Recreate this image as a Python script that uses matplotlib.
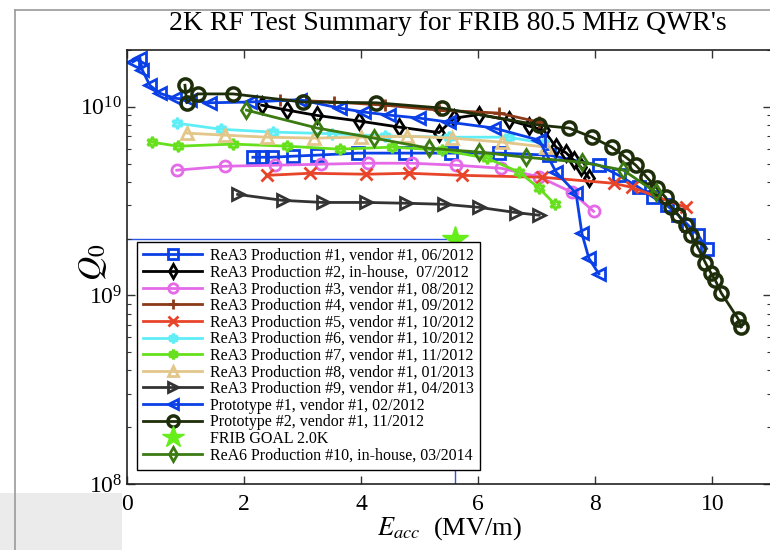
import matplotlib
matplotlib.use("Agg")
import matplotlib.pyplot as plt
from matplotlib.patches import Rectangle
from matplotlib.lines import Line2D

plt.rcParams['font.family'] = ['Liberation Serif', 'DejaVu Serif']
plt.rcParams['mathtext.fontset'] = 'stix'

# ---- data: accelerating gradient (MV/m) and Q0 -------------------------
labels = [
    "ReA3 Production #1, vendor #1, 06/2012",
    "ReA3 Production #2, in-house,  07/2012",
    "ReA3 Production #3, vendor #1, 08/2012",
    "ReA3 Production #4, vendor #1, 09/2012",
    "ReA3 Production #5, vendor #1, 10/2012",
    "ReA3 Production #6, vendor #1, 10/2012",
    "ReA3 Production #7, vendor #1, 11/2012",
    "ReA3 Production #8, vendor #1, 01/2013",
    "ReA3 Production #9, vendor #1, 04/2013",
    "Prototype #1, vendor #1, 02/2012",
    "Prototype #2, vendor #1, 11/2012",
    "FRIB GOAL 2.0K",
    "ReA6 Production #10, in-house, 03/2014",
]

p1_E = [2.15, 2.30, 2.47, 2.83, 3.24, 3.94, 4.74, 5.54, 6.35, 7.21, 8.06, 8.40,
        8.74, 8.99, 9.22, 9.42, 9.59, 9.76, 9.90]
p1_Q = [5.40e9, 5.40e9, 5.40e9, 5.47e9, 5.54e9, 5.68e9, 5.68e9, 5.68e9, 5.68e9,
        5.54e9, 4.90e9, 4.33e9, 3.74e9, 3.31e9, 3.00e9, 2.66e9, 2.35e9, 2.08e9, 1.77e9]

p2_E = [2.30, 2.74, 3.24, 3.97, 4.65, 5.33, 5.59, 6.01, 6.52, 6.87, 7.12, 7.33,
        7.50, 7.63, 7.75, 7.89]
p2_Q = [1.02e10, 9.6e9, 9.0e9, 8.4e9, 7.8e9, 7.3e9, 8.7e9, 9.1e9, 8.5e9, 7.9e9,
        7.5e9, 6.1e9, 5.7e9, 5.2e9, 4.8e9, 4.2e9]

p3_E = [0.85, 1.67, 2.52, 3.32, 4.11, 4.87, 5.62, 6.39, 7.04, 7.60, 7.97]
p3_Q = [4.61e9, 4.84e9, 4.90e9, 4.96e9, 5.02e9, 5.02e9, 4.90e9, 4.72e9, 4.25e9,
        3.52e9, 2.79e9]

p4_E = [2.61, 3.54, 4.40, 5.33, 6.35, 7.04]
p4_Q = [1.09e10, 1.06e10, 1.02e10, 9.6e9, 9.26e9, 8.29e9]

p5_E = [2.39, 3.12, 4.09, 4.82, 5.72, 7.09, 8.31, 8.62, 9.54]
p5_Q = [4.33e9, 4.44e9, 4.39e9, 4.44e9, 4.33e9, 4.23e9, 3.93e9, 3.74e9, 2.93e9]

p6_E = [0.85, 1.60, 2.49, 3.50, 4.40, 5.50, 6.52, 7.12]
p6_Q = [8.19e9, 7.6e9, 7.34e9, 7.2e9, 7.0e9, 6.9e9, 6.9e9, 6.41e9]

p7_E = [0.43, 0.87, 1.81, 2.74, 3.63, 4.53, 5.38, 6.15, 6.70, 7.04, 7.31]
p7_Q = [6.49e9, 6.18e9, 6.34e9, 6.18e9, 5.96e9, 6.11e9, 5.89e9, 5.34e9, 4.50e9,
        3.70e9, 3.04e9]

p8_E = [1.02, 1.67, 2.39, 3.20, 4.00, 4.79, 5.55, 6.41, 7.16]
p8_Q = [7.25e9, 7.07e9, 6.90e9, 6.82e9, 6.90e9, 6.98e9, 6.82e9, 6.49e9, 6.11e9]

p9_E = [1.89, 2.66, 3.34, 4.09, 4.77, 5.42, 6.01, 6.64, 7.04]
p9_Q = [3.43e9, 3.19e9, 3.11e9, 3.11e9, 3.08e9, 3.04e9, 2.93e9, 2.75e9, 2.66e9]

proto1_E = [0.10, 0.22, 0.26, 0.39, 0.56, 0.82, 1.07, 1.41, 2.10, 2.95, 3.63, 4.05,
            4.48, 4.99, 5.50, 6.27, 7.04, 7.33, 7.67, 7.77, 7.89, 8.06]
proto1_Q = [1.73e10, 1.82e10, 1.57e10, 1.30e10, 1.18e10, 1.11e10, 1.09e10, 1.05e10,
            1.06e10, 1.09e10, 9.84e9, 9.37e9, 9.03e9, 8.71e9, 8.29e9, 7.71e9,
            6.65e9, 4.50e9, 3.48e9, 2.13e9, 1.57e9, 1.30e9]

proto2_E = [0.99, 1.02, 1.21, 1.81, 3.00, 4.26, 5.38, 7.04, 7.55, 7.94, 8.28, 8.52,
            8.69, 8.88, 9.05, 9.20, 9.30, 9.42, 9.54, 9.64, 9.76, 9.88, 9.97, 10.05,
            10.15, 10.44, 10.49]
proto2_Q = [1.30e10, 1.05e10, 1.17e10, 1.17e10, 1.06e10, 1.05e10, 9.84e9, 7.99e9,
            7.71e9, 6.90e9, 6.11e9, 5.40e9, 4.90e9, 4.23e9, 3.70e9, 3.31e9, 2.93e9,
            2.66e9, 2.35e9, 2.08e9, 1.77e9, 1.49e9, 1.32e9, 1.20e9, 1.03e9, 7.5e8, 6.8e8]

goal_E = [5.6]
goal_Q = [2.0e9]

p10_E = [2.04, 3.25, 4.22, 5.16, 6.01, 6.81, 7.77, 8.48, 9.03]
p10_Q = [9.60e9, 7.71e9, 6.82e9, 6.03e9, 5.75e9, 5.40e9, 5.08e9, 4.61e9, 3.52e9]

# ---- styles ---------------------------------------------------------------
series = [
    (p1_E, p1_Q, '#0A40E6', 's'),
    (p2_E, p2_Q, '#000000', 'd'),
    (p3_E, p3_Q, '#E46AE8', 'o'),
    (p4_E, p4_Q, '#8C3A18', '+'),
    (p5_E, p5_Q, '#E8442A', 'x'),
    (p6_E, p6_Q, '#60EEF6', (6, 1, 0)),
    (p7_E, p7_Q, '#66E01C', (6, 1, 0)),
    (p8_E, p8_Q, '#E2C68A', '^'),
    (p9_E, p9_Q, '#333333', '>'),
    (proto1_E, proto1_Q, '#0A40E6', '<'),
    (proto2_E, proto2_Q, '#1E2E0A', 'o'),
    None,
    (p10_E, p10_Q, '#3C7A12', 'd'),
]

W, H = 770, 550
fig = plt.figure(figsize=(W / 100, H / 100), dpi=100)

# window frame around the plot
fig.add_artist(Rectangle((0, 0), 122 / W, 57 / H, transform=fig.transFigure,
                         facecolor='#EBEBEB', edgecolor='none', zorder=0))
fig.add_artist(Line2D([15 / W, 15 / W], [0, 1 - 10 / H], transform=fig.transFigure,
                      color='#9A9A9A', lw=1.2))
fig.add_artist(Line2D([15 / W, 1], [1 - 10 / H, 1 - 10 / H], transform=fig.transFigure,
                      color='#9A9A9A', lw=1.2))

ax = fig.add_axes([127 / W, 1 - 484 / H, 644 / W, 434 / H])
ax.set_yscale('log')
ax.set_xlim(0, 11)
ax.set_ylim(1e8, 2e10)

# FRIB goal guide lines
ax.plot([0, goal_E[0]], [goal_Q[0], goal_Q[0]], color='#2A55E6', lw=1.0, zorder=1)
ax.plot([goal_E[0], goal_E[0]], [1e8, goal_Q[0]], color='#2A55E6', lw=1.0, zorder=1)

handles = []
for lab, s in zip(labels, series):
    if s is None:
        h, = ax.plot(goal_E, goal_Q, linestyle='none', marker='*', markersize=19,
                     color='#66EE1A', label=lab, zorder=3)
    else:
        E, Q, c, m = s
        big = m == 'o' and c == '#1E2E0A'
        h, = ax.plot(E, Q, color=c, lw=2.0, marker=m, markersize=9.5 if big else 8,
                     markerfacecolor='none', markeredgewidth=2.5 if big else 2.0,
                     label=lab, zorder=2)
    handles.append(h)

ax.tick_params(which='both', direction='in', top=True, right=True, colors='#333333',
               labelcolor='black', labelsize=17)
ax.tick_params(axis='x', pad=7)
ax.tick_params(which='major', length=6, width=1)
ax.tick_params(which='minor', length=3, width=0.8)
ax.set_xticks([0, 2, 4, 6, 8, 10])
for sp in ax.spines.values():
    sp.set_linewidth(1.2)
    sp.set_color('#222222')

ax.set_xlabel(r'$E_{acc}$  (MV/m)', fontsize=19, labelpad=0)
ax.set_ylabel(r'$Q_0$', fontsize=24)
ax.yaxis.set_label_coords(-0.028, 0.51)

fig.text(448 / W, 1 - 23 / H, "2K RF Test Summary for FRIB 80.5 MHz QWR's",
         ha='center', va='center', fontsize=20)

leg = ax.legend(handles=handles, loc='lower left', bbox_to_anchor=(10 / 644, 14 / 434),
                borderaxespad=0, fontsize=11.5, numpoints=1, handlelength=3.7,
                handletextpad=0.45, labelspacing=0.04, fancybox=False, framealpha=1,
                edgecolor='black', borderpad=0.4, markerscale=0.85)
leg.get_frame().set_linewidth(1.0)

fig.savefig('out.png', dpi=100)
